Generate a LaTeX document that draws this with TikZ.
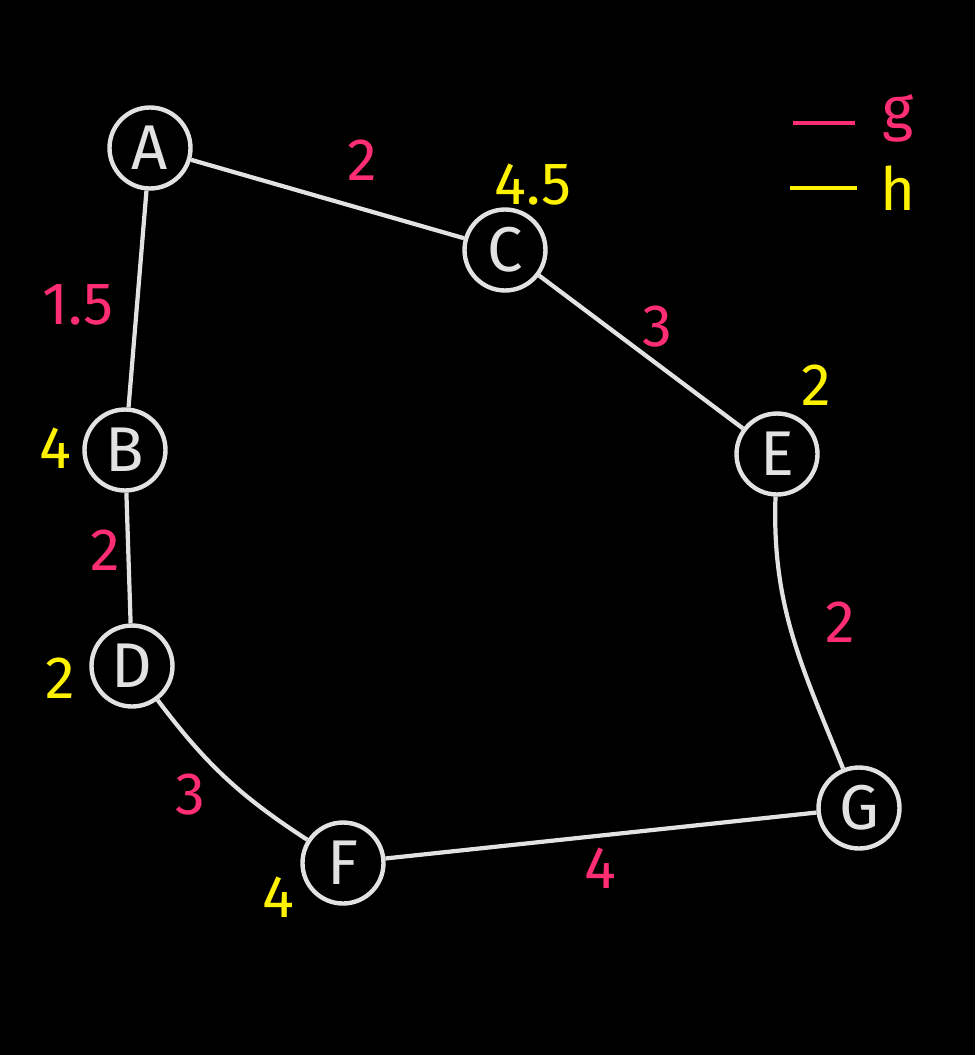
\documentclass[tikz,border=0pt]{standalone}
\usepackage{fontspec}
\setmainfont{Fira Sans}
\begin{document}
\begin{tikzpicture}[x=0.02cm,y=-0.02cm]
\definecolor{pk}{HTML}{FF2E72}
\definecolor{yl}{HTML}{FFF200}
\definecolor{gr}{HTML}{E2E2E2}
\tikzset{
  vtx/.style={circle,draw=gr,line width=2.5pt,fill=black,inner sep=0pt,minimum size=1.62cm,text=gr,font=\fontsize{36}{40}\selectfont},
  edge/.style={draw=gr,line width=2.4pt},
  wt/.style={text=pk,font=\fontsize{34}{38}\selectfont,inner sep=0pt},
  hv/.style={text=yl,font=\fontsize{34}{38}\selectfont,inner sep=0pt},
  leg/.style={line width=1.8pt}
}
\fill[black] (0,0) rectangle (975,1055);
\useasboundingbox (0,0) rectangle (975,1055);
\node[vtx] (A) at (150,148) {A};
\node[vtx] (C) at (505,250) {C};
\node[vtx] (B) at (125,450) {B};
\node[vtx] (E) at (777,454) {E};
\node[vtx] (D) at (132,666) {D};
\node[vtx] (F) at (343,863) {F};
\node[vtx] (G) at (859,808) {G};
\draw[edge] (A) -- (C);
\draw[edge] (A) -- (B);
\draw[edge] (C) -- (E);
\draw[edge] (B) -- (D);
\draw[edge] (D) to[bend right=10] (F);
\draw[edge] (E) to[out=-92,in=112] (G);
\draw[edge] (F) -- (G);
\node[wt] (wac) at (362,160) {2};
\node[wt] (wab) at (78,305) {1.5};
\node[wt] (wce) at (657,327) {3};
\node[wt] (wbd) at (105,550) {2};
\node[wt] (wdf) at (190,795) {3};
\node[wt] (weg) at (840,622) {2};
\node[wt] (wfg) at (600,868) {4};
\node[hv] (hc) at (533,185) {4.5};
\node[hv] (hb) at (55,448) {4};
\node[hv] (hd) at (60,678) {2};
\node[hv] (he) at (816,385) {2};
\node[hv] (hf) at (278,897) {4};
\coordinate (g1) at (793,123);
\coordinate (g2) at (855,123);
\coordinate (h1) at (790,188);
\coordinate (h2) at (857,188);
\draw[leg,pk] (g1) -- (g2);
\draw[leg,yl] (h1) -- (h2);
\node[wt] (lg) at (898,118) {g};
\node[hv] (lh) at (898,188) {h};
\end{tikzpicture}
\end{document}
